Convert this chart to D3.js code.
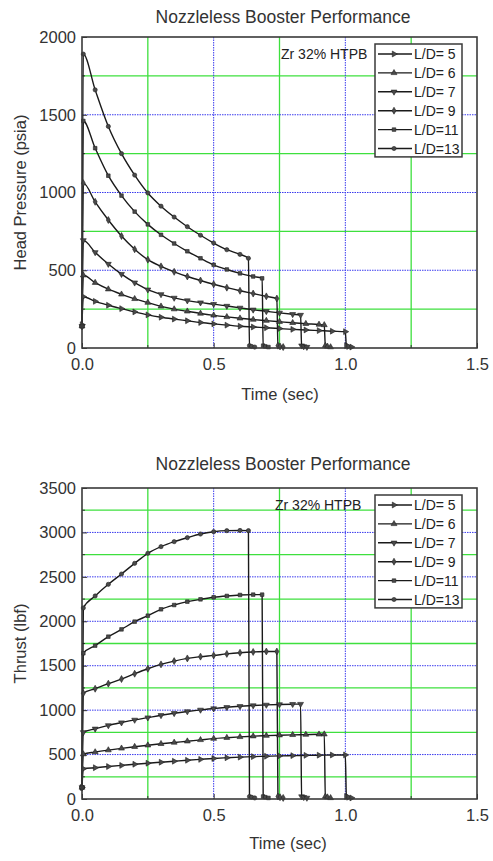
<!DOCTYPE html>
<html><head><meta charset="utf-8">
<script src="https://cdn.jsdelivr.net/npm/d3@7"></script>
<style>
html,body{margin:0;padding:0;background:#fff;}
svg{display:block;font-family:"Liberation Sans",Arial,sans-serif;}
</style></head>
<body><svg id="c" width="493" height="861"></svg>
<script>
// ---------------- data ----------------
const seriesLabels = ["L/D= 5","L/D= 6","L/D= 7","L/D= 9","L/D=11","L/D=13"];
const stepTimes = [0,0.005,0.05,0.10,0.15,0.20,0.25,0.30,0.35,0.40,0.45,0.50,0.55,0.60,0.65,0.70,0.75,0.80,0.85,0.90,0.95,1.00];
const burnTimes = [1.00,0.92,0.83,0.74,0.684,0.632];
const tailOffsets = [0.004,0.012,0.024];

// Head pressure (psia), at stepTimes before burnout, last value at burnout
const headLD5  = [150,330,300,275,253,232,213,198,186,175,164,155,147,140,135,130,125,120,116,112,108,105];
const headLD6  = [140,468,420,378,345,316,292,268,250,236,222,210,200,191,183,176,169,162,156,151,148];
const headLD7  = [140,692,615,540,475,420,375,345,322,305,292,282,270,258,246,236,226,217,212];
const headLD9  = [140,1060,940,823,720,635,568,525,490,460,434,410,388,368,350,332,318];
const headLD11 = [140,1460,1285,1108,980,877,795,728,672,622,577,535,505,480,460,448];
const headLD13 = [140,1890,1660,1425,1250,1112,997,912,842,780,725,675,632,602,577];
const headTail = [15,10,6];

// Thrust (lbf)
const thrustLD5  = [130,340,352,365,378,391,403,414,425,436,446,456,464,471,477,481,485,488,491,493,495,496];
const thrustLD6  = [130,505,528,550,570,588,605,621,636,650,665,680,690,699,707,713,718,722,725,728,729];
const thrustLD7  = [130,750,790,828,860,890,916,942,965,985,1003,1018,1032,1043,1052,1059,1064,1067,1068];
const thrustLD9  = [130,1190,1241,1298,1350,1410,1466,1515,1552,1582,1602,1616,1633,1646,1655,1660,1660];
const thrustLD11 = [130,1640,1726,1827,1909,1996,2063,2135,2183,2221,2247,2270,2285,2296,2300,2300];
const thrustLD13 = [130,2150,2285,2416,2532,2652,2765,2840,2896,2941,2982,3008,3020,3022,3020];
const thrustTail = [28,20,12];

const xTicks = [0,0.5,1.0,1.5];
const xMinor = [0.25,0.75,1.25];
const headTicks = [0,500,1000,1500,2000];
const headMinor = [250,750,1250,1750];
const thrustTicks = [0,500,1000,1500,2000,2500,3000,3500];
const thrustMinor = [250,750,1250,1750,2250,2750,3250];

const titleText = "Nozzleless Booster Performance";
const noteText = "Zr 32% HTPB";

// ---------------- drawing ----------------
const svg = d3.select("#c");
const FONT = "Liberation Sans, Arial, sans-serif";
const symbols = [
  d3.symbol().type(d3.symbolTriangle).size(15),   // rotated right
  d3.symbol().type(d3.symbolTriangle).size(15),
  d3.symbol().type(d3.symbolTriangle).size(15),   // rotated down
  d3.symbol().type(d3.symbolDiamond).size(14),
  d3.symbol().type(d3.symbolSquare).size(13),
  d3.symbol().type(d3.symbolCircle).size(14)
];
const rotations = [90,0,180,0,0,0];

function buildSeries(valueArrays, tail){
  return valueArrays.map((vals,i)=>{
    const bt = burnTimes[i];
    const times = stepTimes.filter(t=>t < bt-0.009);
    const pts = vals.slice(0,times.length).map((v,j)=>({t:times[j], v}));
    pts.push({t:bt, v:vals[vals.length-1]});
    tail.forEach((v,k)=>pts.push({t:bt+tailOffsets[k], v}));
    return pts;
  });
}

function drawPanel(cfg){
  const L=82, R=477, T=cfg.top, B=cfg.bottom;
  const x = d3.scaleLinear().domain([0,1.5]).range([L,R]);
  const y = d3.scaleLinear().domain([0,cfg.ymax]).range([B,T]);
  const g = svg.append("g");

  // grid
  g.selectAll(".gxm").data(xMinor).enter().append("line")
    .attr("x1",d=>x(d)).attr("x2",d=>x(d)).attr("y1",T).attr("y2",B)
    .attr("stroke","#3ee03e").attr("stroke-width",1.3);
  g.selectAll(".gym").data(cfg.minor).enter().append("line")
    .attr("x1",L).attr("x2",R).attr("y1",d=>y(d)).attr("y2",d=>y(d))
    .attr("stroke","#3ee03e").attr("stroke-width",1.3);
  g.selectAll(".gxM").data(xTicks.slice(1,-1)).enter().append("line")
    .attr("x1",d=>x(d)).attr("x2",d=>x(d)).attr("y1",T).attr("y2",B)
    .attr("stroke","#3a3aee").attr("stroke-width",1).attr("stroke-dasharray","1.5,1");
  g.selectAll(".gyM").data(cfg.ticks.slice(1,-1)).enter().append("line")
    .attr("x1",L).attr("x2",R).attr("y1",d=>y(d)).attr("y2",d=>y(d))
    .attr("stroke","#3a3aee").attr("stroke-width",1).attr("stroke-dasharray","1.5,1");

  // minor ticks
  g.selectAll(".mtx").data(xMinor).enter().append("line")
    .attr("x1",d=>x(d)).attr("x2",d=>x(d)).attr("y1",B).attr("y2",B-3)
    .attr("stroke","#333").attr("stroke-width",1);
  g.selectAll(".mty").data(cfg.minor).enter().append("line")
    .attr("x1",L).attr("x2",L+3).attr("y1",d=>y(d)).attr("y2",d=>y(d))
    .attr("stroke","#333").attr("stroke-width",1);

  // axes
  const ax = g.append("g").attr("transform",`translate(0,${B})`)
    .call(d3.axisBottom(x).tickValues(xTicks).tickFormat(d3.format(".1f")).tickSizeInner(-5).tickSizeOuter(0).tickPadding(10));
  const ay = g.append("g").attr("transform",`translate(${L},0)`)
    .call(d3.axisLeft(y).tickValues(cfg.ticks).tickFormat(d3.format("d")).tickSizeInner(-5).tickSizeOuter(0).tickPadding(6));
  [ax,ay].forEach(a=>{
    a.select(".domain").remove();
    a.selectAll(".tick line").attr("stroke","#333");
    a.selectAll(".tick text").attr("fill","#333").style("font-size","16.5px").style("font-family",FONT);
  });

  // series
  const line = d3.line().x(d=>x(d.t)).y(d=>y(d.v)).curve(d3.curveMonotoneX);
  const clip = g.append("g");
  cfg.series.forEach((pts,i)=>{
    clip.append("path").datum(pts).attr("d",line)
      .attr("fill","none").attr("stroke","#1a1a1a").attr("stroke-width",1.4);
  });
  cfg.series.forEach((pts,i)=>{
    clip.selectAll(null).data(pts).enter().append("path")
      .attr("d",symbols[i])
      .attr("transform",d=>`translate(${x(d.t)},${y(d.v)}) rotate(${rotations[i]})`)
      .attr("fill","#4a4a4a").attr("stroke","#222").attr("stroke-width",0.6);
  });

  // border
  g.append("rect").attr("x",L).attr("y",T).attr("width",R-L).attr("height",B-T)
    .attr("fill","none").attr("stroke","#3a3a3a").attr("stroke-width",1.6);

  // title & labels
  g.append("text").attr("x",283).attr("y",cfg.titleY).attr("text-anchor","middle")
    .style("font-size","17.5px").attr("fill","#333").text(titleText);
  g.append("text").attr("x",cfg.xlabX).attr("y",cfg.xlabY).attr("text-anchor","middle")
    .style("font-size","16.5px").attr("fill","#333").text("Time (sec)");
  g.append("text").attr("transform",`translate(26,${(T+B)/2}) rotate(-90)`).attr("text-anchor","middle")
    .style("font-size","16.5px").attr("fill","#333").text(cfg.ylabel);

  // note
  g.append("text").attr("x",cfg.noteX).attr("y",cfg.legTop+15).attr("text-anchor","start")
    .style("font-size","14px").attr("fill","#222").text(noteText);

  // legend
  const lx=375, lw=87, rowH=18.9;
  const lg = g.append("g");
  lg.append("rect").attr("x",lx).attr("y",cfg.legTop).attr("width",lw).attr("height",rowH*6-0.5)
    .attr("fill","#fff").attr("stroke","#3a3a3a").attr("stroke-width",1.5);
  seriesLabels.forEach((lab,i)=>{
    const cy = cfg.legTop + 10 + i*rowH;
    lg.append("line").attr("x1",lx+3).attr("x2",lx+37).attr("y1",cy).attr("y2",cy)
      .attr("stroke","#1a1a1a").attr("stroke-width",1.4);
    lg.append("path").attr("d",symbols[i])
      .attr("transform",`translate(${lx+19},${cy}) rotate(${rotations[i]})`)
      .attr("fill","#4a4a4a").attr("stroke","#222").attr("stroke-width",0.6);
    lg.append("text").attr("x",lx+39).attr("y",cy+5).style("font-size","14px").attr("fill","#222").text(lab);
  });
}

drawPanel({
  top:37, bottom:348, ymax:2000, ticks:headTicks, minor:headMinor,
  series: buildSeries([headLD5,headLD6,headLD7,headLD9,headLD11,headLD13], headTail),
  titleY:23, xlabX:280, xlabY:400, ylabel:"Head Pressure (psia)", legTop:44, noteX:281
});
drawPanel({
  top:488, bottom:799, ymax:3500, ticks:thrustTicks, minor:thrustMinor,
  series: buildSeries([thrustLD5,thrustLD6,thrustLD7,thrustLD9,thrustLD11,thrustLD13], thrustTail),
  titleY:470, xlabX:288, xlabY:849, ylabel:"Thrust (lbf)", legTop:495, noteX:275
});
</script></body></html>
